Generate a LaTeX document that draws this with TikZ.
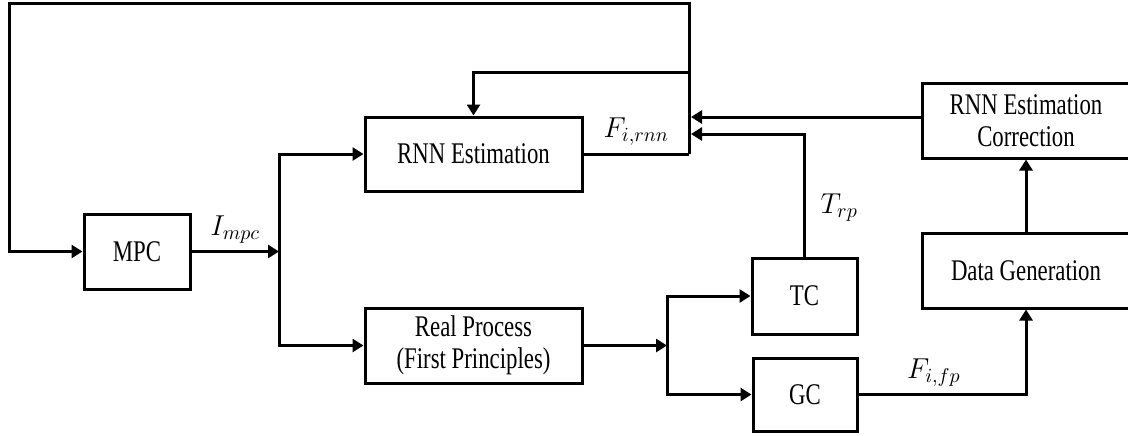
\documentclass[tikz,border=0pt]{standalone}
\usepackage{fontspec}
\setmainfont[FakeStretch=0.76]{Liberation Serif}
\usetikzlibrary{arrows.meta, positioning}

\begin{document}
\begin{tikzpicture}[
    x=0.5pt, y=-0.5pt,
    block/.style={draw, line width=1.5pt, inner sep=2pt, align=center, font=\fontsize{15}{16}\selectfont},
    arrow/.style={-{Triangle[length=5.5pt, width=6.5pt]}, line width=1.5pt},
    wire/.style={line width=1.5pt},
    sig/.style={font=\fontsize{14}{16}\selectfont}
]
\useasboundingbox (0,0) rectangle (1128,435);

% Blocks
\node[block, minimum width=53pt, minimum height=37.5pt] (mpc) at (137,251.5) {MPC};
\node[block, minimum width=108.5pt, minimum height=37pt] (rnn) at (473.5,154) {RNN Estimation};
\node[block, minimum width=108.5pt, minimum height=37.5pt] (real) at (473.5,345.5) {Real Process\\(First Principles)};
\node[block, minimum width=52.5pt, minimum height=38pt] (tc) at (804.5,296) {TC};
\node[block, minimum width=52pt, minimum height=36.5pt] (gc) at (805,394.5) {GC};
\node[block, minimum width=104pt, minimum height=37.5pt] (datagen) at (1026,270.5) {Data Generation};
\node[block, minimum width=104pt, minimum height=37.5pt] (corr) at (1026,120.5) {RNN Estimation\\Correction};

% Junctions
\coordinate (split) at (279,251.5);
\coordinate (split2) at (667,345.5);
\coordinate (fb) at (689,154);
\coordinate (tap) at (689,72);
\coordinate (topright) at (689,3);
\coordinate (topleft) at (9,3);
\coordinate (in1) at (691,117);
\coordinate (in2) at (691,134);

% MPC output to both models
\draw[arrow] (mpc) -- node[sig, above] {$I_{mpc}$} (split);
\draw[arrow] (split) |- (rnn);
\draw[arrow] (split) |- (real);

% RNN output and feedback loops
\draw[wire] (rnn) -- node[sig, above] {$F_{i,rnn}$} (fb);
\draw[arrow] (fb) -- (topright) -- (topleft) |- (mpc);
\draw[arrow] (tap) -| (rnn);

% Corrections coming back
\draw[arrow] (corr.west |- in1) -- (in1);
\draw[arrow] (tc) |- node[sig, right, pos=0.2, xshift=4pt] {$T_{rp}$} (in2);

% Real process to controllers
\draw[arrow] (real) -- (split2);
\draw[arrow] (split2) |- (tc);
\draw[arrow] (split2) |- (gc);

% Data path
\draw[arrow] (gc) -| node[sig, above, pos=0.225] {$F_{i,fp}$} (datagen);
\draw[arrow] (datagen) -- (corr);

\end{tikzpicture}
\end{document}
